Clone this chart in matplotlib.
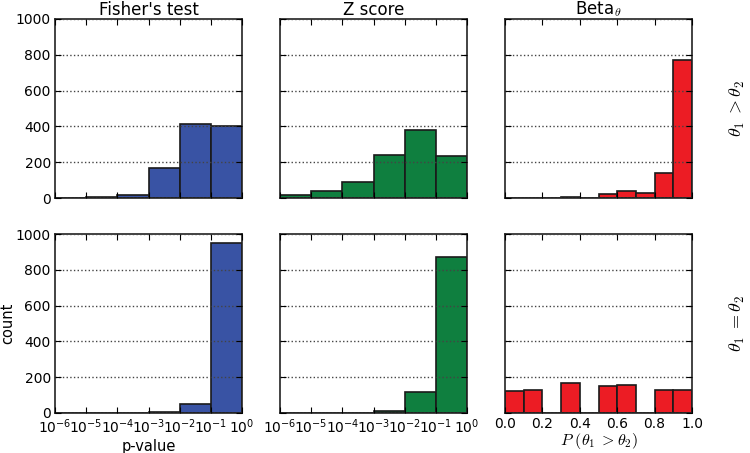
import numpy as np
import matplotlib
matplotlib.use("Agg")
import matplotlib.pyplot as plt

plt.rcParams['mathtext.fontset'] = 'cm'
plt.rcParams['font.family'] = ['DejaVu Sans']

# Data
log_edges = [1e-6, 1e-5, 1e-4, 1e-3, 1e-2, 1e-1, 1e0]
lin_edges = [0.0, 0.1, 0.2, 0.3, 0.4, 0.5, 0.6, 0.7, 0.8, 0.9, 1.0]

fisher_gt = [0, 7, 19, 166, 412, 401]
zscore_gt = [19, 39, 88, 241, 381, 233]
beta_gt = [0, 0, 2, 4, 0, 20, 39, 28, 138, 770]

fisher_eq = [0, 0, 0, 4, 48, 951]
zscore_eq = [0, 0, 2, 11, 119, 869]
beta_eq = [125, 129, 0, 166, 0, 153, 157, 0, 129, 131]

titles = ["Fisher's test", "Z score", r"Beta$_\theta$"]
row_labels = [r"$\theta_1\;{>}\theta_2$", r"$\theta_1\;{=}\theta_2$"]
yticks = [0, 200, 400, 600, 800, 1000]
log_ticks = [1e-6, 1e-5, 1e-4, 1e-3, 1e-2, 1e-1, 1e0]
log_ticklabels = [r"$\mathdefault{10^{-6}}$", r"$\mathdefault{10^{-5}}$",
                  r"$\mathdefault{10^{-4}}$", r"$\mathdefault{10^{-3}}$",
                  r"$\mathdefault{10^{-2}}$", r"$\mathdefault{10^{-1}}$",
                  r"$\mathdefault{10^{0}}$"]
lin_ticks = [0.0, 0.2, 0.4, 0.6, 0.8, 1.0]
lin_ticklabels = ["0.0", "0.2", "0.4", "0.6", "0.8", "1.0"]

colors = ["#3953a4", "#0f7f3f", "#ec1c24"]

fig = plt.figure(figsize=(7.5, 4.53), dpi=100)

lefts = [55/750, 280/750, 505/750]
bottoms = [1 - 198/453, 1 - 413/453]
w = 187/750
h = 179/453

data = [[fisher_gt, zscore_gt, beta_gt], [fisher_eq, zscore_eq, beta_eq]]

for r in range(2):
    for c in range(3):
        ax = fig.add_axes([lefts[c], bottoms[r], w, h])
        vals = data[r][c]
        edges = np.array(log_edges if c < 2 else lin_edges)
        ax.bar(edges[:-1], vals, width=np.diff(edges), align='edge',
               color=colors[c], edgecolor='#1a1a1a', linewidth=1.2)
        if c < 2:
            ax.set_xscale('log')
            ax.set_xlim(1e-6, 1e0)
            ax.set_xticks(log_ticks)
            ax.xaxis.set_minor_locator(matplotlib.ticker.NullLocator())
            ax.set_xticklabels(log_ticklabels if r == 1 else [])
        else:
            ax.set_xlim(0, 1)
            ax.set_xticks(lin_ticks)
            ax.set_xticklabels(lin_ticklabels if r == 1 else [])
        ax.set_ylim(0, 1000)
        ax.set_yticks(yticks)
        if c == 0:
            ax.set_yticklabels([str(t) for t in yticks])
        else:
            ax.set_yticklabels([])
        ax.tick_params(direction='in', top=True, right=True, length=4,
                       labelsize=10, width=0.8)
        ax.tick_params(axis='x', pad=3)
        ax.tick_params(axis='y', pad=3)
        ax.yaxis.grid(True, linestyle=':', color='#444444', linewidth=1.0)
        ax.set_axisbelow(False)
        for s in ax.spines.values():
            s.set_linewidth(1.2)
            s.set_color('#222222')
        if r == 0:
            ax.set_title(titles[c], fontsize=12, pad=3)
        if r == 1 and c == 0:
            ax.set_xlabel("p-value", fontsize=10.5, labelpad=2)
            ax.set_ylabel("count", fontsize=10.5)
            ax.yaxis.set_label_coords(-0.21, 0.5)
        if r == 1 and c == 2:
            ax.set_xlabel(r"$P\ (\theta_1\;{>}\theta_2)$", fontsize=11.5, labelpad=0)
        if c == 2:
            ax.text(1.245, 0.5, row_labels[r], transform=ax.transAxes,
                    rotation=90, ha='center', va='center', fontsize=13)

fig.savefig("out.png", dpi=100)
